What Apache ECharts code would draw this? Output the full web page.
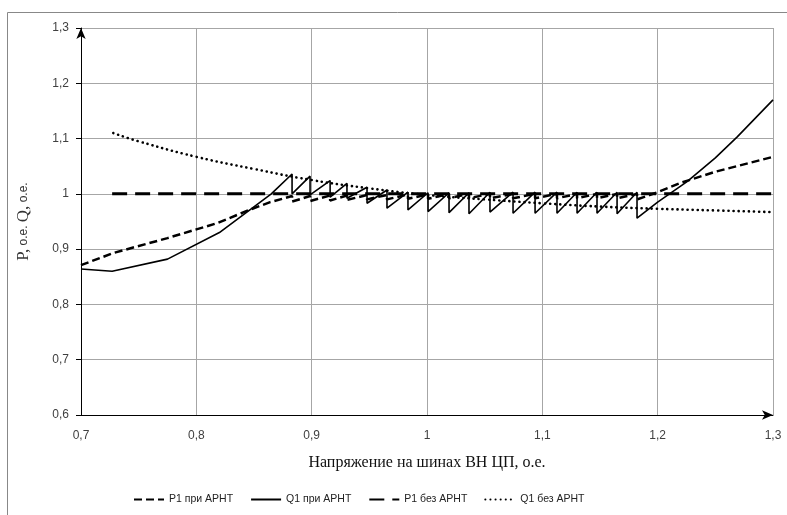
<!DOCTYPE html>
<html>
<head>
<meta charset="utf-8">
<script src="https://cdn.jsdelivr.net/npm/echarts@6/dist/echarts.min.js"></script>
<style>
  html, body { margin: 0; padding: 0; background: #fff; }
  #chart { width: 787px; height: 515px; }
</style>
</head>
<body>
<div id="chart"></div>
<script>
// tick values
const xTicks = [0.7, 0.8, 0.9, 1.0, 1.1, 1.2, 1.3]
const yTicks = [0.6, 0.7, 0.8, 0.9, 1.0, 1.1, 1.2, 1.3]

// voltages where the tap changer switches (АРНТ)
const switchU = [0.883, 0.8986, 0.916, 0.9306, 0.948, 0.9653, 0.9835, 1.0009, 1.0191,
  1.0364, 1.0546, 1.0746, 1.0937, 1.1127, 1.1301, 1.1474, 1.1648, 1.1821]

// Q1 при АРНТ
const q1StartU = [0.7, 0.727, 0.775, 0.82, 0.865]
const q1StartV = [0.864, 0.86, 0.882, 0.93, 1.0]
const q1Peak = [1.036, 1.032, 1.024, 1.019, 1.012, 1.007, 1.003, 1.002, 1.002,
  1.002, 1.003, 1.003, 1.003, 1.003, 1.003, 1.003, 1.003, 1.003]
const q1Low = [1.0, 0.998, 0.994, 0.992, 0.983, 0.974, 0.971, 0.968, 0.966,
  0.964, 0.967, 0.965, 0.965, 0.965, 0.965, 0.965, 0.964, 0.956]
const q1EndU = [1.2, 1.2255, 1.25, 1.269, 1.3]
const q1EndV = [0.985, 1.022, 1.065, 1.103, 1.17]

// P1 при АРНТ
const p1StartU = [0.7, 0.728, 0.775, 0.818, 0.846, 0.864]
const p1StartV = [0.871, 0.893, 0.92, 0.947, 0.971, 0.985]
const p1Peak = [0.996, 0.996, 0.997, 0.997, 0.998, 0.998, 0.999, 0.999, 1.0,
  1.0, 1.0, 1.0, 1.0, 1.0, 1.0, 1.0, 1.0, 1.0]
const p1Low = [0.986, 0.987, 0.988, 0.989, 0.99, 0.99, 0.991, 0.991, 0.992,
  0.992, 0.992, 0.992, 0.992, 0.992, 0.992, 0.992, 0.992, 0.99]
const p1EndU = [1.2, 1.22, 1.25, 1.3]
const p1EndV = [1.003, 1.02, 1.04, 1.067]

// P1 без АРНТ
const p1noU = [0.727, 0.8, 0.9, 1.0, 1.1, 1.2, 1.3]
const p1noV = [1.0, 1.0, 1.0, 1.0, 1.0, 1.0, 1.0]

// Q1 без АРНТ
const q1noU = [0.728, 0.75, 0.8, 0.85, 0.9, 0.95, 1.0, 1.05, 1.1, 1.15, 1.2, 1.25, 1.3]
const q1noV = [1.11, 1.095, 1.067, 1.045, 1.025, 1.01, 0.998, 0.99, 0.983, 0.977, 0.973, 0.97, 0.967]

function pairs (xs, ys) {
  return xs.map((x, i) => [x, ys[i]])
}
function withTeeth (startU, startV, peak, low, endU, endV) {
  let pts = pairs(startU, startV)
  switchU.forEach((u, i) => {
    pts.push([u, peak[i]])
    pts.push([u, low[i]])
  })
  return pts.concat(pairs(endU, endV))
}
function fmt (v) {
  return String(+v.toFixed(1)).replace('.', ',')
}

const chart = echarts.init(document.getElementById('chart'))
const tickFont = { fontFamily: 'Liberation Sans', fontSize: 12, color: '#404040' }

const option = {
  animation: false,
  backgroundColor: '#fff',
  graphic: [{
    type: 'rect',
    shape: { x: 7.5, y: 12.5, width: 800, height: 520 },
    style: { fill: 'none', stroke: '#888', lineWidth: 1 },
    silent: true
  }],
  grid: { left: 81, right: 14, top: 28, bottom: 100 },
  legend: {
    left: 128,
    top: 489,
    itemWidth: 30,
    itemHeight: 10,
    itemGap: 17,
    itemStyle: { opacity: 0 },
    textStyle: { fontFamily: 'Liberation Sans', fontSize: 10.5, color: '#222' },
    data: ['P1 при АРНТ', 'Q1 при АРНТ', 'P1 без АРНТ', 'Q1 без АРНТ']
  },
  xAxis: {
    type: 'value',
    min: xTicks[0],
    max: xTicks[xTicks.length - 1],
    interval: 0.1,
    name: 'Напряжение на шинах ВН ЦП, о.е.',
    nameLocation: 'middle',
    nameGap: 40,
    nameTextStyle: { fontFamily: 'Liberation Serif', fontSize: 16, color: '#111' },
    axisLine: { lineStyle: { color: '#000', width: 1 }, symbol: ['none', 'arrow'], symbolSize: [7, 11] },
    axisTick: { show: false },
    axisLabel: Object.assign({ margin: 15, formatter: fmt }, tickFont),
    splitLine: { show: true, lineStyle: { color: '#a6a6a6', width: 1 } }
  },
  yAxis: {
    type: 'value',
    min: yTicks[0],
    max: yTicks[yTicks.length - 1],
    interval: 0.1,
    name: '{b|P,} {s|о.е.} {b|Q,} {s|о.е.}',
    nameLocation: 'middle',
    nameGap: 49,
    nameRotate: 90,
    nameTextStyle: {
      color: '#333',
      rich: {
        b: { fontFamily: 'Liberation Serif', fontSize: 17, color: '#333' },
        s: { fontFamily: 'Liberation Sans', fontSize: 12, color: '#333' }
      }
    },
    axisLine: { show: true, lineStyle: { color: '#000', width: 1 }, symbol: ['none', 'arrow'], symbolSize: [7, 11] },
    axisTick: { show: true, inside: false, length: 5, lineStyle: { color: '#000' } },
    axisLabel: Object.assign({ margin: 12, formatter: fmt }, tickFont),
    splitLine: { show: true, lineStyle: { color: '#a6a6a6', width: 1 } }
  },
  series: [
    {
      name: 'P1 при АРНТ',
      type: 'line',
      symbol: 'none',
      lineStyle: { color: '#000', width: 2.5, type: [8, 4] },
      itemStyle: { color: '#000' },
      data: withTeeth(p1StartU, p1StartV, p1Peak, p1Low, p1EndU, p1EndV)
    },
    {
      name: 'Q1 при АРНТ',
      type: 'line',
      symbol: 'none',
      lineStyle: { color: '#000', width: 1.6 },
      itemStyle: { color: '#000' },
      data: withTeeth(q1StartU, q1StartV, q1Peak, q1Low, q1EndU, q1EndV)
    },
    {
      name: 'P1 без АРНТ',
      type: 'line',
      symbol: 'none',
      lineStyle: { color: '#000', width: 3, type: [15, 8] },
      itemStyle: { color: '#000' },
      data: pairs(p1noU, p1noV)
    },
    {
      name: 'Q1 без АРНТ',
      type: 'line',
      symbol: 'none',
      smooth: true,
      lineStyle: { color: '#000', width: 2.6, type: [0.1, 5], cap: 'round' },
      itemStyle: { color: '#000' },
      data: pairs(q1noU, q1noV)
    }
  ]
}

chart.setOption(option)
window.addEventListener('resize', () => chart.resize())
</script>
</body>
</html>
